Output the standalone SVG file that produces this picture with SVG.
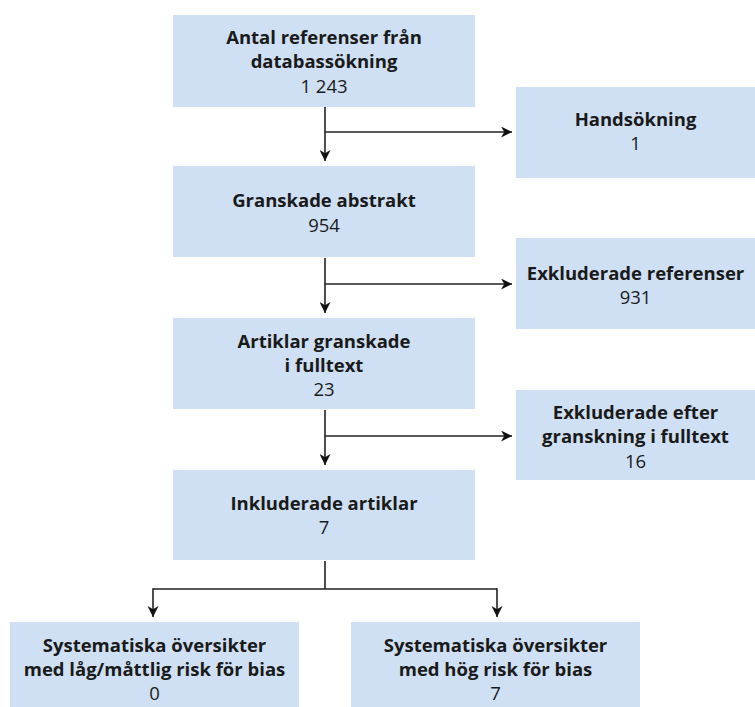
<svg xmlns="http://www.w3.org/2000/svg" width="755" height="707" viewBox="0 0 755 707">
<style>
.box{fill:#cfe0f4}
.t{font-family:"Open Sans","Liberation Sans",sans-serif;font-size:18.5px;fill:#1a1a1a;text-anchor:middle}
.b{font-weight:bold}
.c{stroke:#222;stroke-width:1.6;fill:none}
</style>
<defs>
<marker id="ah" viewBox="0 0 10 10" refX="10" refY="5" markerWidth="11" markerHeight="11" markerUnits="userSpaceOnUse" orient="auto">
<path d="M0,0 L10,5 L0,10 L3,5 z" fill="#111"/>
</marker>
</defs>
<rect width="755" height="707" fill="#fff"/>
<g id="connectors">
<path class="c" d="M325,107 V161" marker-end="url(#ah)"/>
<path class="c" d="M325,132 H512" marker-end="url(#ah)"/>
<path class="c" d="M325,258 V313" marker-end="url(#ah)"/>
<path class="c" d="M325,284 H512" marker-end="url(#ah)"/>
<path class="c" d="M325,410 V465" marker-end="url(#ah)"/>
<path class="c" d="M325,436 H512" marker-end="url(#ah)"/>
<path class="c" d="M325,561 V589 M153,589 H497"/>
<path class="c" d="M153,588.2 V617" marker-end="url(#ah)"/>
<path class="c" d="M497,588.2 V617" marker-end="url(#ah)"/>
</g>
<g id="n1"><rect class="box" x="173" y="15" width="302" height="92"/>
<text class="t b" x="324" y="44">Antal referenser från</text>
<text class="t b" x="324" y="68">databassökning</text>
<text class="t" x="324" y="93">1 243</text></g>
<g id="n2"><rect class="box" x="516" y="87" width="239" height="91"/>
<text class="t b" x="635.5" y="126">Handsökning</text>
<text class="t" x="635.5" y="150">1</text></g>
<g id="n3"><rect class="box" x="173" y="166" width="302" height="91"/>
<text class="t b" x="324" y="207">Granskade abstrakt</text>
<text class="t" x="324" y="232">954</text></g>
<g id="n4"><rect class="box" x="516" y="238" width="239" height="91"/>
<text class="t b" x="635.5" y="280">Exkluderade referenser</text>
<text class="t" x="635.5" y="304">931</text></g>
<g id="n5"><rect class="box" x="173" y="318" width="302" height="91"/>
<text class="t b" x="324" y="348">Artiklar granskade</text>
<text class="t b" x="324" y="372">i fulltext</text>
<text class="t" x="324" y="396">23</text></g>
<g id="n6"><rect class="box" x="516" y="390" width="239" height="90"/>
<text class="t b" x="635.5" y="419">Exkluderade efter</text>
<text class="t b" x="635.5" y="443">granskning i fulltext</text>
<text class="t" x="635.5" y="468">16</text></g>
<g id="n7"><rect class="box" x="173" y="470" width="302" height="90"/>
<text class="t b" x="324" y="510">Inkluderade artiklar</text>
<text class="t" x="324" y="534">7</text></g>
<g id="n8"><rect class="box" x="10" y="622" width="289" height="85"/>
<text class="t b" x="154.5" y="652">Systematiska översikter</text>
<text class="t b" x="154.5" y="676">med låg/måttlig risk för bias</text>
<text class="t" x="154.5" y="700">0</text></g>
<g id="n9"><rect class="box" x="351" y="622" width="289" height="85"/>
<text class="t b" x="495.5" y="652">Systematiska översikter</text>
<text class="t b" x="495.5" y="676">med hög risk för bias</text>
<text class="t" x="495.5" y="700">7</text></g>
</svg>
